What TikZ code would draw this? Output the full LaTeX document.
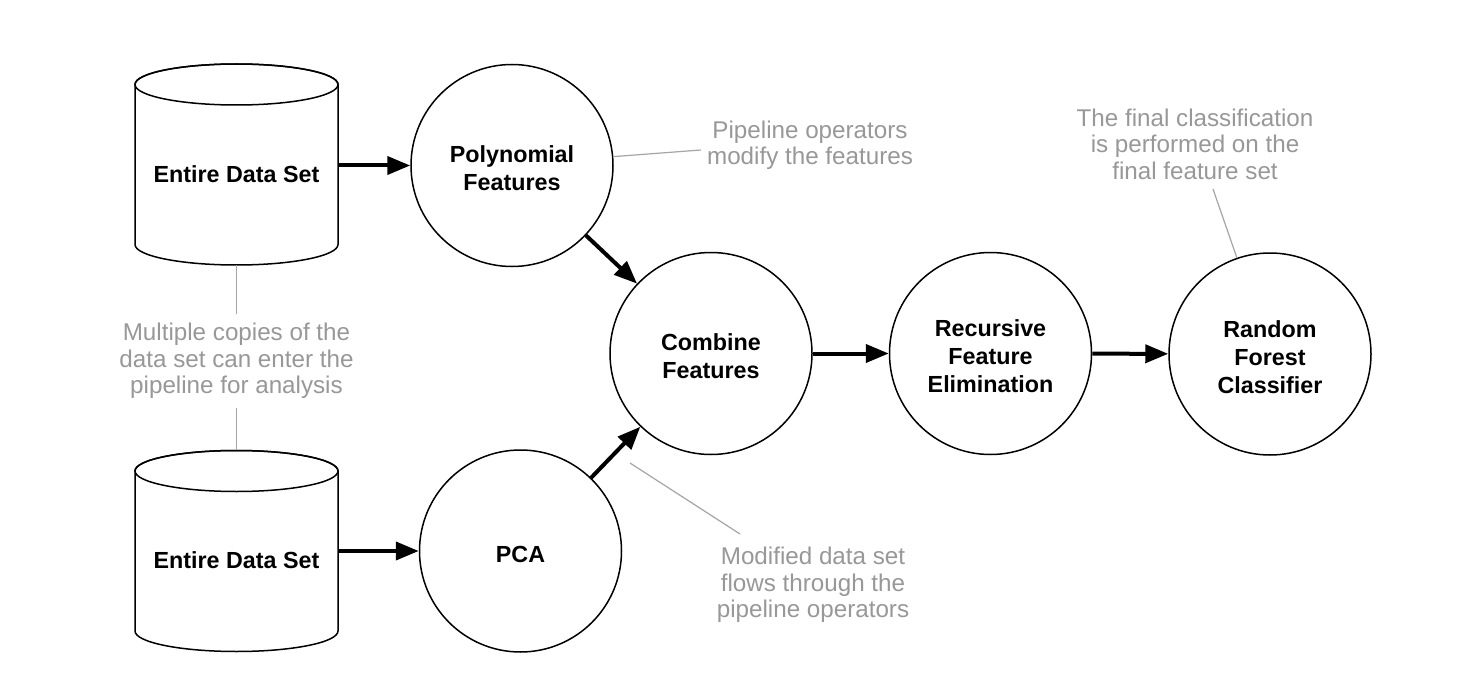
\documentclass[tikz,border=0pt]{standalone}
\usepackage{fontspec}
\setmainfont{Liberation Sans}
\usetikzlibrary{arrows.meta,calc}
\definecolor{notegray}{RGB}{152,152,152}
\definecolor{leadergray}{RGB}{165,165,165}
\begin{document}
\begin{tikzpicture}[x=1pt,y=-1pt,
  stagetext/.style={align=center,inner sep=0pt,yshift=-3pt,
    font=\bfseries\fontsize{23.3}{28}\selectfont},
  stage/.style={circle,draw,line width=1.5pt,minimum size=202pt,inner sep=0pt,
    label={[stagetext]center:#1}},
  store/.style={rectangle,minimum width=203pt,minimum height=201pt,inner sep=0pt},
  storetext/.style={font=\bfseries\fontsize{23.3}{28}\selectfont,inner sep=0pt},
  flow/.style={line width=4pt,-{Triangle[length=23pt,width=18pt]}},
  note/.style={align=center,text=notegray,font=\fontsize{24.2}{26.5}\selectfont,inner sep=6pt},
  leader/.style={draw=leadergray,line width=1.2pt},
  drum/.pic={
    \filldraw[fill=white,line width=1.5pt]
      (-101.5,-80) -- (-101.5,80)
      arc[start angle=180,end angle=360,x radius=101.5pt,y radius=20.5pt]
      -- (101.5,-80)
      arc[start angle=0,end angle=180,x radius=101.5pt,y radius=20.5pt] -- cycle;
    \draw[line width=1.5pt] (0,-80) ellipse[x radius=101.5pt,y radius=20.5pt];
  }]
\useasboundingbox[fill=white] (0,0) rectangle (1468,698);

% data stores
\node[store] (dsA) at (236.5,164.5) {};
\pic at (dsA.center) {drum};
\node[storetext] (dsAtext) at (236.5,174.5) {Entire Data Set};
\node[store] (dsB) at (236.5,551) {};
\pic at (dsB.center) {drum};
\node[storetext] (dsBtext) at (236.5,560) {Entire Data Set};

% pipeline stages
\node[stage={Polynomial\\Features}] (poly) at (512,165.5) {};
\node[stage={PCA}] (pca) at (520.5,551) {};
\node[stage={Combine\\Features}] (comb) at (711,353.5) {};
\node[stage={Recursive\\Feature\\Elimination}] (rfe) at (990.5,353.5) {};
\node[stage={Random\\Forest\\Classifier}] (rfc) at (1270,354) {};

% data flow
\draw[flow] (dsA.east |- poly) -- (poly);
\draw[flow] (dsB.east |- pca) -- (pca);
\draw[flow] (poly) -- (comb);
\draw[flow] (pca) -- (comb);
\draw[flow] (comb) -- (rfe);
\draw[flow] (rfe) -- (rfc);

% annotations
\node[note,inner ysep=9pt] (noteCopies) at (236.5,361)
  {Multiple copies of the\\data set can enter the\\pipeline for analysis};
\draw[leader] (dsA.south) -- (noteCopies.north);
\draw[leader] (noteCopies.south) -- (dsB.north);

\node[note] (notePipe) at (810,145) {Pipeline operators\\modify the features};
\draw[leader] (poly.5) -- ([yshift=-5pt]notePipe.west);

\node[note] (noteMod) at (813,585) {Modified data set\\flows through the\\pipeline operators};
\coordinate (modStart) at (630,463);
\coordinate (modEnd) at (740,534);
\draw[leader] (modStart) -- (modEnd);

\node[note] (noteFinal) at (1195,144) {The final classification\\is performed on the\\final feature set};
\coordinate (finalStart) at (1213,189);
\draw[leader] (finalStart) -- (rfc.109);
\end{tikzpicture}
\end{document}
